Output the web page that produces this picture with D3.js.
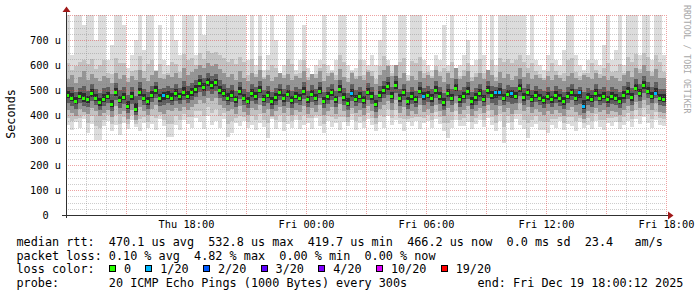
<!DOCTYPE html>
<html>
<head>
<meta charset="utf-8">
<script src="https://cdnjs.cloudflare.com/ajax/libs/d3/7.8.5/d3.min.js"></script>
<style>
  body { margin: 0; background: #fff; }
  text { font-family: "DejaVu Sans Mono", monospace; }
</style>
</head>
<body>
<div id="graph"></div>
<script>
// one column every 12 minutes, Thu 12:00 -> Fri 18:00 (values in microseconds)
var med = [
  482,470,458,475,468,462,488,470,452,466, 478,445,492,460,472,438,476,425,490,470,
  455,482,500,468,480,478,470,486,475,492, 478,490,505,528,512,532,520,531,500,488,
  470,482,462,495,470,458,488,476,502,466, 480,455,472,490,468,485,460,478,470,495,
  462,485,470,498,458,476,490,462,505,472, 450,488,466,478,460,493,475,445,482,500,
  515,478,520,468,490,455,476,462,498,476, 482,468,500,475,452,488,470,510,463,478,
  495,455,472,488,466,500,480,490,492,470, 485,488,478,508,472,490,465,482,470,460,
  475,462,480,468,455,478,490,470,492,436, 472,465,488,470,478,462,475,470,458,480,
  495,472,510,488,520,498,478,489,470,466
];
var q1 = [
  420,410,398,425,412,405,430,415,395,408, 422,392,435,405,418,385,420,380,432,415,
  400,425,440,412,405,420,415,430,418,432, 420,432,445,462,450,470,455,468,440,430,
  415,425,405,438,412,400,430,420,442,410, 425,398,415,432,410,428,402,420,412,438,
  405,428,412,440,400,418,432,404,445,415, 392,430,410,420,402,435,418,388,425,440,
  455,420,460,410,432,398,418,405,440,412, 425,410,442,418,395,430,412,450,405,420,
  438,398,415,430,408,442,422,400,435,412, 428,405,420,450,415,432,408,425,412,402,
  418,405,422,410,398,420,432,412,402,385, 415,408,430,412,420,405,418,412,400,422,
  438,415,452,430,462,440,420,448,412,410
];
var q3 = [
  545,560,530,552,575,540,566,548,535,558, 550,528,570,546,560,532,555,542,580,548,
  538,562,575,550,545,560,552,570,548,590, 560,572,585,600,590,610,598,605,585,570,
  552,565,540,575,550,538,568,552,580,545, 560,535,552,570,548,565,540,558,550,575,
  542,565,550,578,538,556,570,542,585,552, 532,568,546,558,540,573,555,525,562,580,
  595,558,600,548,570,535,556,542,578,550, 562,548,580,555,532,568,550,590,543,558,
  575,535,552,568,546,580,560,538,572,550, 565,542,558,588,552,570,545,562,550,540,
  555,542,560,548,535,558,570,550,540,562, 552,545,568,550,558,542,555,550,538,560,
  575,552,590,568,600,578,558,585,550,548
];
var lo = [
  360,340,372,350,385,330,365,300,300,355, 375,338,362,320,368,345,380,352,335,370,
  348,365,340,385,355,312,312,360,342,380, 365,350,390,372,345,395,360,378,350,385,
  312,330,368,355,375,348,362,340,370,352, 308,385,345,372,336,365,350,380,345,362,
  370,345,388,355,330,375,352,368,340,372, 355,380,342,368,350,385,360,338,372,348,
  395,360,380,365,335,372,355,378,345,368, 375,350,385,365,338,308,348,380,355,355,
  372,345,365,380,352,390,362,338,375,290, 368,342,385,360,345,308,352,366,340,340,
  330,362,348,375,340,365,355,338,372,350, 362,345,375,352,340,368,356,372,345,360,
  375,352,385,365,392,370,350,380,362,358
];
var hi = [
  800,640,800,800,760,800,800,700,800,800, 620,680,800,800,760,590,640,700,800,660,
  800,800,580,760,620,600,800,700,640,800, 800,800,640,800,720,800,800,800,800,800,
  800,800,800,800,800,620,800,600,800,580, 640,800,700,570,600,800,800,580,620,760,
  590,560,600,620,800,600,580,620,800,800, 600,580,590,800,620,600,640,600,700,800,
  620,600,580,800,800,560,800,800,800,620, 600,580,640,620,760,600,800,580,600,640,
  700,600,620,800,640,580,800,600,800,800, 800,800,800,800,800,640,800,620,600,580,
  640,800,620,600,660,800,800,640,600,580, 620,800,620,600,680,800,620,660,800,600,
  800,800,800,640,800,800,620,800,800,640
];
// lost pings (out of 20) per column
var loss = [
  0,0,0,0,0,0,0,0,0,0, 0,0,0,0,0,0,0,0,0,0, 0,0,0,0,1,0,0,0,0,0,
  0,0,0,0,0,0,0,0,0,0, 0,0,0,0,0,0,0,0,0,0, 0,0,0,0,0,0,0,0,0,0,
  0,0,0,0,0,0,0,0,0,0, 0,1,0,0,0,0,0,0,0,0, 0,0,0,0,0,0,0,0,0,1,
  0,0,0,0,0,0,0,0,0,0, 0,0,0,0,0,0,0,1,1,0, 0,1,0,0,0,0,0,0,0,0,
  0,0,0,0,0,0,0,0,1,1, 0,0,0,0,0,0,0,0,0,0, 0,0,0,0,0,0,0,1,0,0
];

var yTicks = [0, 100, 200, 300, 400, 500, 600, 700];
var lossSteps = [0, 1, 2, 3, 4, 10, 19];
var lossLabels = ["0", "1/20", "2/20", "3/20", "4/20", "10/20", "19/20"];
var lossColors = ["#26ff00", "#00b8ff", "#0059ff", "#5e00ff", "#7e00ff", "#dd00ff", "#ff0000"];

var legendLines = [
  "median rtt:  470.1 us avg  532.8 us max  419.7 us min  466.2 us now  0.0 ms sd  23.4   am/s",
  "packet loss: 0.10 % avg  4.82 % max  0.00 % min  0.00 % now"
];
var probeText = "probe:       20 ICMP Echo Pings (1000 Bytes) every 300s";
var endText = "end: Fri Dec 19 18:00:12 2025";

var t0 = new Date(2025, 11, 18, 12, 0, 0),
    t1 = new Date(2025, 11, 19, 18, 0, 0),
    stepMs = 12 * 60 * 1000;

var plot = {left: 66, right: 666, top: 15, bottom: 215};

var x = d3.scaleTime()
    .domain([t0, t1])
    .range([plot.left, plot.right]);

var y = d3.scaleLinear()
    .domain([0, 800])
    .range([plot.bottom, plot.top]);

var svg = d3.select("#graph").append("svg")
    .attr("width", 697)
    .attr("height", 297);

svg.append("defs").append("clipPath")
    .attr("id", "clip")
    .append("rect")
    .attr("x", plot.left).attr("y", plot.top)
    .attr("width", plot.right - plot.left).attr("height", plot.bottom - plot.top);

var rows = med.map(function(m, i) {
    return {t: new Date(t0.getTime() + i * stepMs), med: m, lo: lo[i], q1: q1[i], q3: q3[i], hi: hi[i], loss: loss[i]};
});
var colW = x(new Date(t0.getTime() + stepMs)) - x(t0);

// smoke: layered grey bands, darker towards the median
var layers = [
    {fill: "#dcdcdc", a: function(d) { return d.lo; }, b: function(d) { return d.hi; }},
    {fill: "#c2c2c2", a: function(d) { return (d.lo + d.q1) / 2; }, b: function(d) { return d.q3 + (d.hi - d.q3) * 0.25; }},
    {fill: "#959595", a: function(d) { return d.q1; }, b: function(d) { return d.q3; }},
    {fill: "#5e5e5e", a: function(d) { return d.med - (d.med - d.q1) * 0.55; }, b: function(d) { return d.med + (d.q3 - d.med) * 0.45; }},
    {fill: "#2c2c2c", a: function(d) { return d.med - (d.med - d.q1) * 0.25; }, b: function(d) { return d.med + (d.q3 - d.med) * 0.2; }}
];

var smoke = svg.append("g")
    .attr("clip-path", "url(#clip)")
    .attr("shape-rendering", "crispEdges");

layers.forEach(function(L) {
    smoke.append("g").selectAll("rect")
        .data(rows)
        .join("rect")
        .attr("x", function(d) { return x(d.t); })
        .attr("width", colW)
        .attr("y", function(d) { return y(L.b(d)); })
        .attr("height", function(d) { return y(L.a(d)) - y(L.b(d)); })
        .attr("fill", L.fill);
});

// grid (drawn over the smoke like rrdtool does)
var grid = svg.append("g").attr("shape-rendering", "crispEdges");

var hLines = d3.range(25, 801, 25);
grid.selectAll(".hgrid")
    .data(hLines)
    .join("line")
    .attr("x1", plot.left).attr("x2", plot.right)
    .attr("y1", function(d) { return Math.round(y(d)) + 0.5; })
    .attr("y2", function(d) { return Math.round(y(d)) + 0.5; })
    .attr("stroke", function(d) { return d % 100 === 0 ? "rgba(222,70,70,0.5)" : "rgba(130,130,130,0.4)"; })
    .attr("stroke-dasharray", "1,1");

var vLines = d3.timeHour.range(new Date(t0.getTime() + 3600000), new Date(t1.getTime() + 1));
grid.selectAll(".vgrid")
    .data(vLines)
    .join("line")
    .attr("x1", function(d) { return Math.round(x(d)) + 0.5; })
    .attr("x2", function(d) { return Math.round(x(d)) + 0.5; })
    .attr("y1", plot.top).attr("y2", plot.bottom + 2)
    .attr("stroke", function(d) { return d.getHours() % 3 === 0 ? "rgba(222,70,70,0.5)" : "rgba(130,130,130,0.4)"; })
    .attr("stroke-dasharray", "1,1");

// median marks, coloured by loss
function lossColor(n) {
    var k = 0;
    lossSteps.forEach(function(s, j) { if (n >= s) k = j; });
    return lossColors[k];
}

svg.append("g")
    .attr("clip-path", "url(#clip)")
    .attr("shape-rendering", "crispEdges")
    .selectAll("rect")
    .data(rows)
    .join("rect")
    .attr("x", function(d) { return x(d.t); })
    .attr("width", colW - 1)
    .attr("y", function(d) { return Math.round(y(d.med)) - 1.5; })
    .attr("height", 3)
    .attr("fill", function(d) { return lossColor(d.loss); });

// axes
var xAxis = d3.axisBottom(x)
    .tickValues(d3.timeHour.every(6).range(new Date(t0.getTime() + 1), new Date(t1.getTime() + 1)))
    .tickFormat(d3.timeFormat("%a %H:%M"))
    .tickSize(0)
    .tickPadding(0);

svg.append("g")
    .attr("class", "x axis")
    .attr("transform", "translate(0," + 224.5 + ")")
    .call(xAxis)
    .call(function(g) { g.select(".domain").remove(); })
    .selectAll("text")
    .attr("dy", "0.35em")
    .attr("fill", "#000")
    .style("font-size", "10.3px")
    .style("font-family", "'DejaVu Sans Mono', monospace");

var yAxis = d3.axisLeft(y)
    .tickValues(yTicks)
    .tickFormat(function(d) { return d === 0 ? "0" : d + " u"; })
    .tickSize(0)
    .tickPadding(0);

svg.append("g")
    .attr("class", "y axis")
    .attr("transform", "translate(" + 61 + ",0)")
    .call(yAxis)
    .call(function(g) { g.select(".domain").remove(); })
    .selectAll("text")
    .attr("fill", "#000")
    .attr("dx", function(d) { return d === 0 ? -12.4 : 0; })
    .style("font-size", "10.3px")
    .style("font-family", "'DejaVu Sans Mono', monospace");

var axisCol = "#303030", arrowCol = "#a01818";
svg.append("line")
    .attr("x1", 62).attr("x2", 669).attr("y1", 215.5).attr("y2", 215.5)
    .attr("stroke", axisCol);
svg.append("line")
    .attr("x1", 66.5).attr("x2", 66.5).attr("y1", 218).attr("y2", 11)
    .attr("stroke", axisCol);
svg.append("path")
    .attr("d", "M668,211.5L673.5,215.5L668,219.5Z")
    .attr("fill", arrowCol);
svg.append("path")
    .attr("d", "M62.5,12L66.5,6.5L70.5,12Z")
    .attr("fill", arrowCol);

// vertical title and watermark
svg.append("text")
    .attr("transform", "translate(11,114) rotate(-90)")
    .attr("text-anchor", "middle")
    .attr("dy", "0.35em")
    .style("font-size", "11.8px")
    .text("Seconds");

svg.append("text")
    .attr("transform", "translate(687,5) rotate(90)")
    .attr("dy", "0.35em")
    .attr("fill", "#a8a8a8")
    .style("font-size", "8.2px")
    .text("RRDTOOL / TOBI OETIKER");

// legend
var lineY = [241.6, 255.4, 269.2, 283.2];
var lx = 16.5;

var probe = svg.append("text").style("font-size", "11.8px").text("M");
var cw = probe.node().getComputedTextLength();
probe.remove();

legendLines.forEach(function(s, i) {
    svg.append("text")
        .attr("x", lx).attr("y", lineY[i]).attr("dy", "0.35em")
        .style("font-size", "11.8px")
        .style("white-space", "pre")
        .text(s);
});

svg.append("text")
    .attr("x", lx).attr("y", lineY[2]).attr("dy", "0.35em")
    .style("font-size", "11.8px")
    .text("loss color:");

var cx = lx + 13 * cw;
lossLabels.forEach(function(lab, j) {
    svg.append("rect")
        .attr("x", Math.round(cx) + 0.5).attr("y", Math.round(lineY[2]) - 3.5)
        .attr("width", 6).attr("height", 6)
        .attr("fill", lossColors[j])
        .attr("stroke", "#000");
    svg.append("text")
        .attr("x", cx + 15).attr("y", lineY[2]).attr("dy", "0.35em")
        .style("font-size", "11.8px")
        .text(lab);
    cx = cx + 15 + (lab.length + 2) * cw;
});

svg.append("text")
    .attr("x", lx).attr("y", lineY[3]).attr("dy", "0.35em")
    .style("font-size", "11.8px")
    .style("white-space", "pre")
    .text(probeText);

svg.append("text")
    .attr("x", 477.5).attr("y", lineY[3]).attr("dy", "0.35em")
    .style("font-size", "11.8px")
    .text(endText);
</script>
</body>
</html>
